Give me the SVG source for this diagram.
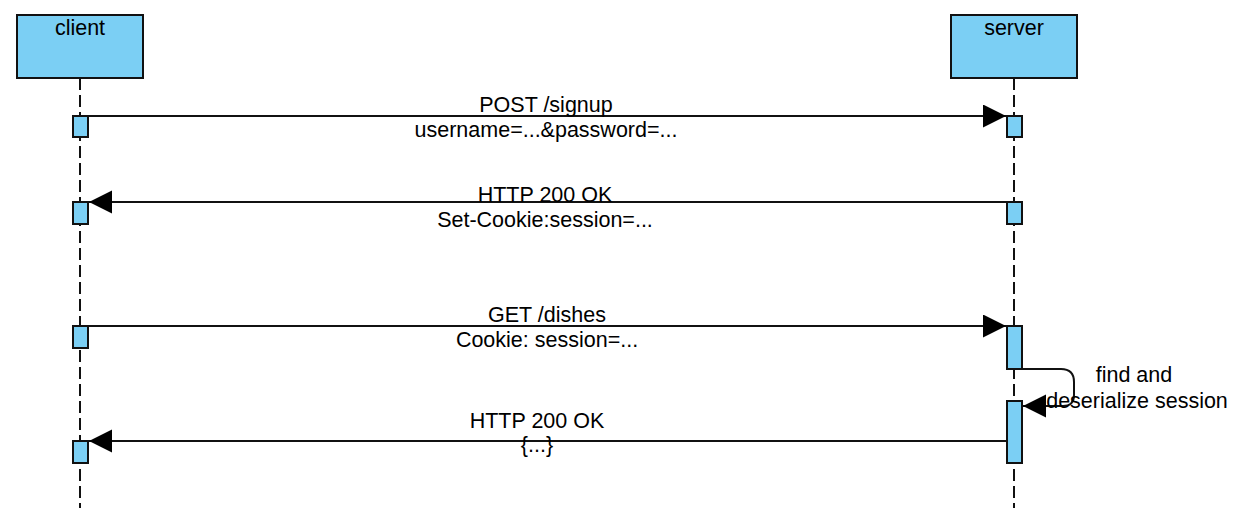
<svg xmlns="http://www.w3.org/2000/svg" width="1236" height="525" viewBox="0 0 1236 525">
<style>
.actor{fill:#7bcff4;stroke:#111;stroke-width:2}
.act{fill:#7bcff4;stroke:#111;stroke-width:2}
.life{stroke:#111;stroke-width:2;stroke-dasharray:12 5;fill:none}
.msg{stroke:#111;stroke-width:2;fill:none}
text{font-family:"Liberation Sans",Arial,sans-serif;font-size:21.5px;fill:#000;text-anchor:middle}
</style>
<defs>
<marker id="ah" markerWidth="24" markerHeight="24" refX="23" refY="11.5" orient="auto" markerUnits="userSpaceOnUse">
<path d="M0,0 L23,11.5 L0,23 Z" fill="#000"/>
</marker>
</defs>
<g id="client">
<line class="life" x1="80" y1="78" x2="80" y2="508"/>
<rect class="actor" x="17" y="15" width="126" height="63"/>
<text x="80" y="35">client</text>
</g>
<g id="server">
<line class="life" x1="1014" y1="78" x2="1014" y2="508"/>
<rect class="actor" x="951" y="15" width="126" height="63"/>
<text x="1014" y="35">server</text>
</g>
<g id="activations">
<rect class="act" x="73" y="116" width="15" height="21"/>
<rect class="act" x="1007" y="116" width="15" height="21"/>
<rect class="act" x="73" y="202" width="15" height="22"/>
<rect class="act" x="1007" y="202" width="15" height="22"/>
<rect class="act" x="73" y="326" width="15" height="22"/>
<rect class="act" x="1007" y="326" width="15" height="43"/>
<rect class="act" x="1007" y="401" width="15" height="62"/>
<rect class="act" x="73" y="441" width="15" height="22"/>
</g>
<g id="connectors">
<line class="msg" x1="88" y1="116" x2="1006" y2="116" marker-end="url(#ah)"/>
<line class="msg" x1="1007" y1="202" x2="89" y2="202" marker-end="url(#ah)"/>
<line class="msg" x1="88" y1="326" x2="1006" y2="326" marker-end="url(#ah)"/>
<path class="msg" d="M1022,369 L1061,369 Q1074,369 1074,382 L1074,395 Q1074,406 1063,406 L1023,406" marker-end="url(#ah)"/>
<line class="msg" x1="1007" y1="441" x2="89" y2="441" marker-end="url(#ah)"/>
</g>
<g id="labels">
<text x="546" y="112">POST /signup</text>
<text x="546" y="137">username=...&amp;password=...</text>
<text x="545" y="202">HTTP 200 OK</text>
<text x="545" y="227">Set-Cookie:session=...</text>
<text x="547" y="322">GET /dishes</text>
<text x="547" y="347">Cookie: session=...</text>
<text x="537" y="428">HTTP 200 OK</text>
<text x="537" y="452">{...}</text>
<text x="1134" y="382">find and</text>
<text x="1137" y="408">deserialize session</text>
</g>
</svg>
